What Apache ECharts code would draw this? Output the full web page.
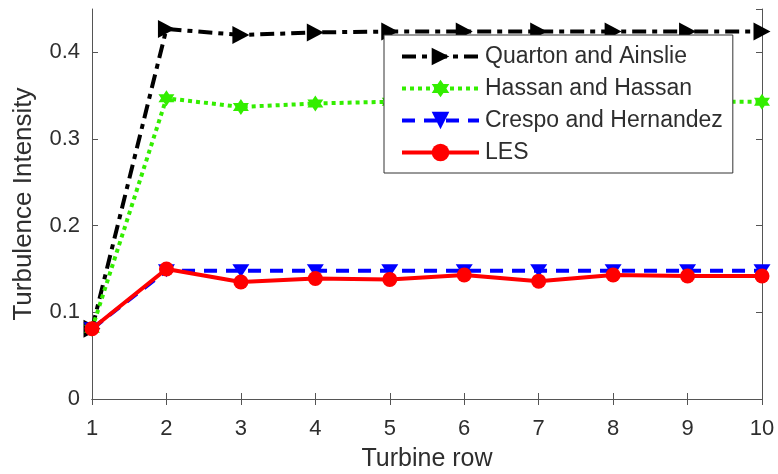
<!DOCTYPE html>
<html>
<head>
<meta charset="utf-8">
<script src="https://cdn.jsdelivr.net/npm/echarts@6/dist/echarts.min.js"></script>
<style>
  html, body { margin: 0; padding: 0; background: #fff; }
  #chart { width: 778px; height: 474px; }
</style>
</head>
<body>
<div id="chart"></div>
<script>
// Turbulence intensity per turbine row: three analytical wake models vs LES
const rows = [1, 2, 3, 4, 5, 6, 7, 8, 9, 10];
const quartonAinslie = [0.081, 0.427, 0.420, 0.423, 0.424, 0.424, 0.424, 0.424, 0.424, 0.424];
const hassanHassan = [0.081, 0.347, 0.337, 0.341, 0.343, 0.343, 0.343, 0.343, 0.343, 0.343];
const crespoHernandez = [0.081, 0.148, 0.148, 0.148, 0.148, 0.148, 0.148, 0.148, 0.148, 0.148];
const les = [0.081, 0.150, 0.135, 0.139, 0.138, 0.143, 0.136, 0.143, 0.142, 0.142];
const yTicks = [0, 0.1, 0.2, 0.3, 0.4];

const pairs = vals => rows.map((r, i) => [r, vals[i]]);

const FONT = 'Liberation Sans, Arial, sans-serif';
const TXT = '#2e2e2e';
const AX = '#555';

const hexagram = 'path://M10,0L12.89,5L18.66,5L15.77,10L18.66,15L12.89,15L10,20L7.11,15L1.34,15L4.23,10L1.34,5L7.11,5Z';
const rightTri = 'path://M0,0L10,6L0,12Z';

const chart = echarts.init(document.getElementById('chart'), null, { renderer: 'canvas' });

const hiddenAxisCommon = {
  axisLine: { show: true, lineStyle: { color: AX, width: 1 } },
  axisTick: { show: true, inside: true, length: 6, lineStyle: { color: AX } },
  axisLabel: { show: false },
  splitLine: { show: false }
};

chart.setOption({
  animation: false,
  backgroundColor: '#fff',
  grid: { left: 92, right: 16, top: 9, bottom: 75, containLabel: false, outerBoundsMode: 'none' },
  legend: {
    left: 384,
    top: 35,
    orient: 'vertical',
    backgroundColor: '#fff',
    borderColor: '#333',
    borderWidth: 1,
    borderRadius: 0,
    padding: [10, 10, 9, 16],
    itemWidth: 77,
    itemHeight: 22,
    itemGap: 9,
    lineStyle: { width: 4 },
    textStyle: { fontFamily: FONT, fontSize: 23, color: TXT, lineHeight: 23, padding: [0, 0, 0, 1] },
    data: ['Quarton and Ainslie', 'Hassan and Hassan', 'Crespo and Hernandez', 'LES']
  },
  xAxis: [
    {
      type: 'value',
      min: 1, max: 10, interval: 1,
      name: 'Turbine row',
      nameLocation: 'middle',
      nameGap: 48,
      nameTextStyle: { fontFamily: FONT, fontSize: 25, color: TXT },
      axisLine: { show: true, onZero: false, lineStyle: { color: AX, width: 1 } },
      axisTick: { show: true, inside: true, length: 6, lineStyle: { color: AX } },
      axisLabel: { fontFamily: FONT, fontSize: 22, color: TXT, margin: 19 },
      splitLine: { show: false }
    },
    Object.assign({ type: 'value', position: 'top', min: 1, max: 10, interval: 1 }, hiddenAxisCommon)
  ],
  yAxis: [
    {
      type: 'value',
      min: 0, max: 0.45, interval: 0.1,
      name: 'Turbulence Intensity',
      nameLocation: 'middle',
      nameGap: 55,
      nameTextStyle: { fontFamily: FONT, fontSize: 26, color: TXT },
      axisLine: { show: true, onZero: false, lineStyle: { color: AX, width: 1 } },
      axisTick: { show: true, inside: true, length: 6, lineStyle: { color: AX } },
      axisLabel: {
        fontFamily: FONT, fontSize: 22, color: TXT, margin: 12, showMaxLabel: false,
        formatter: v => {
          const t = yTicks.find(k => Math.abs(k - v) < 1e-9);
          return t === undefined ? '' : String(t);
        }
      },
      splitLine: { show: false }
    },
    Object.assign({ type: 'value', position: 'right', min: 0, max: 0.45, interval: 0.1 }, hiddenAxisCommon)
  ],
  series: [
    {
      name: 'Quarton and Ainslie',
      type: 'line',
      data: pairs(quartonAinslie),
      symbol: rightTri,
      symbolSize: [17, 18],
      lineStyle: { color: '#000', width: 4, type: [14, 6, 5, 6] },
      itemStyle: { color: '#000' },
      z: 2
    },
    {
      name: 'Hassan and Hassan',
      type: 'line',
      data: pairs(hassanHassan),
      symbol: hexagram,
      symbolSize: 16,
      lineStyle: { color: '#33ee00', width: 4, type: [4, 4] },
      itemStyle: { color: '#33ee00' },
      z: 3
    },
    {
      name: 'Crespo and Hernandez',
      type: 'line',
      data: pairs(crespoHernandez),
      symbol: 'triangle',
      symbolRotate: 180,
      symbolSize: [17, 13],
      lineStyle: { color: '#0000ff', width: 4, type: [13, 9] },
      itemStyle: { color: '#0000ff' },
      z: 4
    },
    {
      name: 'LES',
      type: 'line',
      data: pairs(les),
      symbol: 'circle',
      symbolSize: 15,
      lineStyle: { color: '#ff0000', width: 4, type: 'solid' },
      itemStyle: { color: '#ff0000' },
      z: 5
    }
  ]
});
</script>
</body>
</html>
